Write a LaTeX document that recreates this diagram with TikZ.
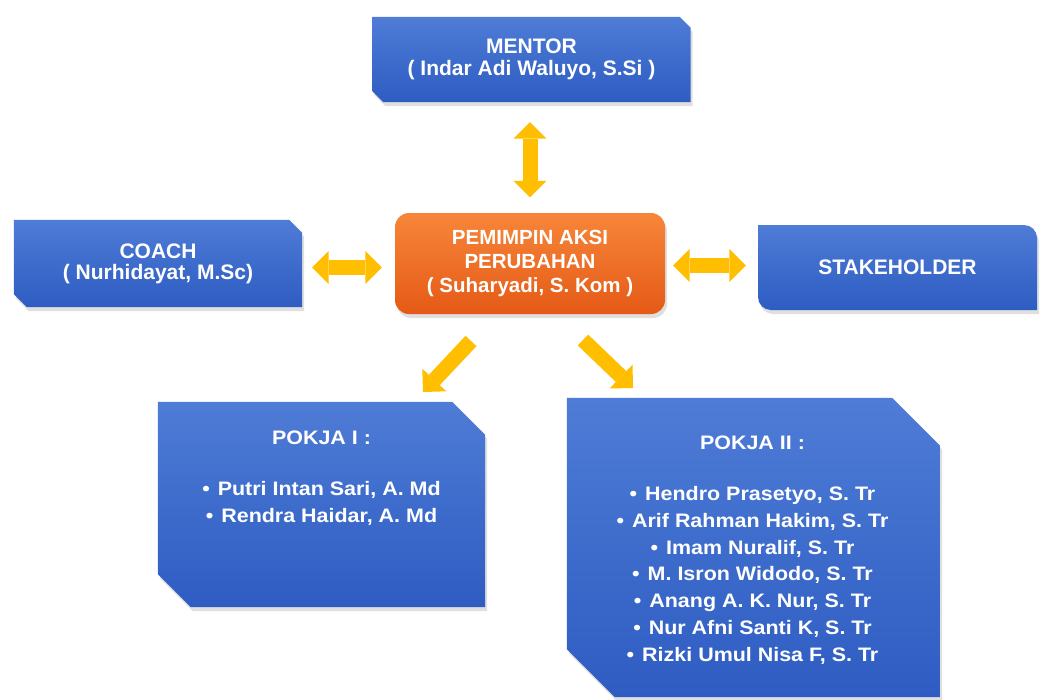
\documentclass[tikz,border=0pt]{standalone}
\usepackage{fontspec}
\setmainfont{Liberation Sans}
\newfontfamily\listfont{Liberation Sans}[FakeStretch=1.1]
\usetikzlibrary{arrows.meta,calc,shadows}
\pgfdeclarelayer{background}
\pgfsetlayers{background,main}
\definecolor{blueT}{RGB}{78,124,214}
\definecolor{blueB}{RGB}{46,92,194}
\definecolor{orT}{RGB}{247,134,58}
\definecolor{orB}{RGB}{229,90,22}
\definecolor{arrC}{RGB}{255,190,0}
\tikzset{
  fatTip/.tip={Triangle[width=33pt,length=16.5pt,line width=0pt]},
  boxtxt/.style={inner sep=0pt, text=white, align=center,
    font=\bfseries\fontsize{21}{23}\selectfont},
  listtxt/.style={inner sep=0pt, text=white, align=center, anchor=north,
    font=\listfont\bfseries\fontsize{19.5}{26.7}\selectfont},
  bluefill/.style={top color=blueT, bottom color=blueB,
    drop shadow={opacity=.25, shadow xshift=2pt, shadow yshift=-4pt}},
  centerbox/.style={rounded corners=14pt, top color=orT, bottom color=orB,
    drop shadow={opacity=.25, shadow xshift=2pt, shadow yshift=-4pt}},
  fat/.style={draw=arrC, line width=15pt, line cap=butt, -fatTip},
  dbl/.style={draw=arrC, line width=15pt, line cap=butt, fatTip-fatTip},
}
\newcommand{\chamfbox}[2]{\path[bluefill] (#1.north west) -- ($(#1.north east)+(-#2,0)$) -- ($(#1.north east)+(0,#2)$) -- (#1.south east) -- ($(#1.south west)+(#2,0)$) -- ($(#1.south west)+(0,-#2)$) -- cycle;}
\begin{document}
\begin{tikzpicture}[x=1pt,y=-1pt]
\begin{pgfonlayer}{background}
\fill[white] (0,0) rectangle (1040,699);
\end{pgfonlayer}
\useasboundingbox (0,0) rectangle (1040,699);

% nodes
\node[boxtxt, minimum width=318pt, minimum height=85pt, font=\bfseries\fontsize{21}{22.5}\selectfont] (mentor) at (531.5,59.5) {MENTOR\\( Indar Adi Waluyo, S.Si )};
\node[boxtxt, minimum width=288pt, minimum height=87pt, font=\bfseries\fontsize{21}{21}\selectfont] (coach) at (158,263.5) {COACH\\( Nurhidayat, M.Sc)};
\node[boxtxt, centerbox, minimum width=270pt, minimum height=101pt, font=\bfseries\fontsize{20.5}{24}\selectfont] (center) at (530,263.5) {PEMIMPIN AKSI\\PERUBAHAN\\( Suharyadi, S. Kom )};
\node[boxtxt, minimum width=279pt, minimum height=85pt] (stake) at (897.5,267.5) {STAKEHOLDER};
\node[boxtxt, minimum width=327pt, minimum height=205pt] (pokja1) at (321.5,504.5) {};
\node[boxtxt, minimum width=373pt, minimum height=299pt] (pokja2) at (753.5,547.5) {};

\node[listtxt] (pokja1txt) at ($(pokja1.north)+(0,28.5)$) {POKJA I :\\[25pt]%
•\hspace{8pt}Putri Intan Sari, A. Md\\
•\hspace{8pt}Rendra Haidar, A. Md};
\node[listtxt] (pokja2txt) at ($(pokja2.north)+(-1,37.5)$) {POKJA II :\\[25pt]%
•\hspace{8pt}Hendro Prasetyo, S. Tr\\
•\hspace{8pt}Arif Rahman Hakim, S. Tr\\
•\hspace{8pt}Imam Nuralif, S. Tr\\
•\hspace{8pt}M. Isron Widodo, S. Tr\\
•\hspace{8pt}Anang A. K. Nur, S. Tr\\
•\hspace{8pt}Nur Afni Santi K, S. Tr\\
•\hspace{8pt}Rizki Umul Nisa F, S. Tr};

% box shapes
\begin{pgfonlayer}{background}
\chamfbox{mentor}{11}
\chamfbox{coach}{13}
\chamfbox{pokja1}{33}
\chamfbox{pokja2}{48}
\path[bluefill] (758,225) -- (1024,225) .. controls (1031.2,225) and (1037,230.8) .. (1037,238)
  -- (1037,310) -- (771,310) .. controls (763.8,310) and (758,304.2) .. (758,297) -- cycle;
\end{pgfonlayer}

% connectors
\coordinate (d1s) at (471,341);
\coordinate (d1e) at (423,392);
\coordinate (d2s) at (583,340);
\coordinate (d2e) at (633,388);
\draw[dbl, shorten <=20pt, shorten >=15.5pt] (mentor.south -| center.north) -- (center.north);
\draw[dbl, shorten <=10pt, shorten >=13pt] ([yshift=-4pt]coach.east) -- ([yshift=-4pt]coach.east -| center.west);
\draw[dbl, shorten <=8pt, shorten >=12pt] ([yshift=-2pt]center.east) -- ([yshift=-2pt]center.east -| stake.west);
\draw[fat] (d1s) -- (d1e);
\draw[fat] (d2s) -- (d2e);
\end{tikzpicture}
\end{document}
